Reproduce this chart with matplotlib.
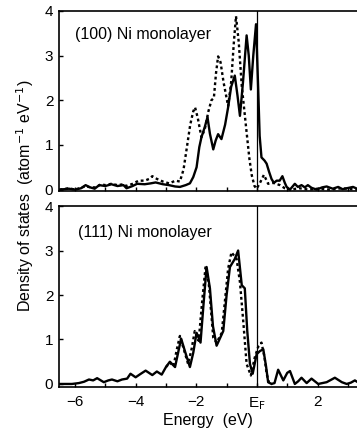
import matplotlib
matplotlib.use('Agg')
import matplotlib.pyplot as plt

plt.rcParams['font.family'] = ['Liberation Sans', 'DejaVu Sans']

# (100) monolayer, solid curve
top_solid_x = [-6.5, -6.2, -6.0, -5.8, -5.65, -5.5, -5.35, -5.2, -5.0, -4.8, -4.6, -4.4, -4.3,
               -4.1, -3.95, -3.7, -3.5, -3.34, -3.1, -2.9, -2.7, -2.54, -2.35, -2.21, -2.1,
               -1.99, -1.9, -1.83, -1.72, -1.63, -1.55, -1.44, -1.36, -1.28, -1.17, -1.05,
               -0.95, -0.85, -0.73, -0.64, -0.56, -0.46, -0.34, -0.27, -0.2, -0.12, -0.03,
               0.04, 0.09, 0.15, 0.25, 0.32, 0.4, 0.48, 0.56, 0.65, 0.75, 0.84, 0.92, 0.98,
               1.09, 1.25, 1.35, 1.47, 1.58, 1.68, 1.8, 1.97, 2.15, 2.3, 2.5, 2.68, 2.82,
               2.96, 3.17, 3.3]
top_solid_y = [0.0, 0.02, 0.0, 0.03, 0.1, 0.05, 0.02, 0.1, 0.08, 0.12, 0.08, 0.1, 0.03,
               0.08, 0.13, 0.12, 0.14, 0.16, 0.12, 0.1, 0.07, 0.06, 0.1, 0.14, 0.28,
               0.5, 0.95, 1.17, 1.4, 1.62, 1.25, 0.9, 1.1, 1.24, 1.13, 1.45,
               1.84, 2.3, 2.55, 2.1, 1.65, 2.4, 3.45, 3.0, 2.24, 3.0, 3.7,
               2.29, 1.2, 0.72, 0.65, 0.58, 0.4, 0.24, 0.15, 0.2, 0.2, 0.3, 0.15, 0.06,
               0.0, 0.13, 0.06, 0.1, 0.05, 0.1, 0.04, 0.0, 0.05, 0.07, 0.02, 0.06, 0.01,
               0.03, 0.06, 0.02]

# (100) monolayer, dotted curve
top_dot_x = [-6.5, -6.2, -6.0, -5.8, -5.65, -5.5, -5.3, -5.15, -5.0, -4.8, -4.6, -4.4, -4.3,
             -4.1, -3.9, -3.7, -3.55, -3.45, -3.3, -3.1, -2.9, -2.68, -2.54, -2.42, -2.32,
             -2.2, -2.1, -2.04, -1.95, -1.83, -1.72, -1.6, -1.5, -1.42, -1.35, -1.28,
             -1.2, -1.1, -0.95, -0.85, -0.76, -0.69, -0.6, -0.5, -0.34, -0.25, -0.17,
             -0.08, -0.01, 0.1, 0.23, 0.37, 0.54, 0.76, 0.92, 1.1, 1.4, 1.7, 2.0, 2.4,
             2.8, 3.3]
top_dot_y = [0.0, 0.03, 0.0, 0.04, 0.08, 0.05, 0.05, 0.12, 0.1, 0.13, 0.1, 0.12, 0.08,
             0.13, 0.2, 0.2, 0.24, 0.3, 0.24, 0.18, 0.14, 0.2, 0.18, 0.45, 0.9,
             1.45, 1.75, 1.84, 1.6, 1.17, 1.35, 1.75, 2.0, 2.05, 2.6, 2.98,
             2.85, 2.4, 1.87, 2.4, 3.3, 3.88, 3.3, 2.32, 1.28, 0.7, 0.32,
             0.08, 0.02, 0.15, 0.33, 0.13, 0.15, 0.1, 0.03, 0.0, 0.03, 0.0, 0.02, 0.0,
             0.03, 0.0]

# (111) monolayer, solid curve
bot_solid_x = [-6.5, -6.1, -5.87, -5.7, -5.54, -5.4, -5.27, -5.05, -4.9, -4.78, -4.6, -4.45,
               -4.28, -4.17, -4.0, -3.85, -3.67, -3.45, -3.3, -3.14, -3.0, -2.87, -2.8,
               -2.7, -2.6, -2.5, -2.38, -2.21, -2.1, -1.99, -1.86, -1.76, -1.66, -1.55,
               -1.45, -1.33, -1.11, -1.0, -0.89, -0.73, -0.62, -0.5, -0.4, -0.32, -0.23,
               -0.14, -0.01, 0.1, 0.21, 0.3, 0.37, 0.48, 0.58, 0.7, 0.87, 1.0, 1.09, 1.25,
               1.36, 1.47, 1.64, 1.8, 2.02, 2.3, 2.57, 2.8, 2.96, 3.1, 3.23, 3.3]
bot_solid_y = [0.0, 0.0, 0.02, 0.05, 0.1, 0.08, 0.13, 0.04, 0.08, 0.1, 0.06, 0.1,
               0.12, 0.23, 0.15, 0.22, 0.3, 0.2, 0.28, 0.21, 0.38, 0.5, 0.45,
               0.38, 0.7, 1.02, 0.75, 0.38, 0.7, 1.15, 0.93, 1.8, 2.63, 2.15,
               1.3, 0.86, 1.19, 2.0, 2.63, 2.81, 3.0, 2.22, 2.15, 1.2, 0.45,
               0.23, 0.67, 0.74, 0.78, 0.4, 0.04, 0.0, 0.02, 0.32, 0.08, 0.25, 0.29, 0.0,
               0.06, 0.14, 0.02, 0.12, 0.0, 0.04, 0.14, 0.04, 0.0, 0.03, 0.08, 0.05]

# (111) monolayer, dotted curve
bot_dot_x = [-3.0, -2.87, -2.75, -2.65, -2.54, -2.42, -2.27, -2.15, -2.05, -1.92, -1.8,
             -1.69, -1.58, -1.44, -1.33, -1.16, -1.05, -0.95, -0.84, -0.67, -0.56, -0.45,
             -0.34, -0.2, -0.07, 0.05, 0.15, 0.25, 0.32, 0.41, 0.5]
bot_dot_y = [0.38, 0.48, 0.4, 0.75, 1.08, 0.8, 0.45, 0.8, 1.19, 0.97, 1.9,
             2.66, 2.2, 1.04, 0.93, 1.15, 1.9, 2.59, 2.96, 2.81, 2.29, 1.4,
             0.45, 0.19, 0.6, 0.85, 0.93, 0.6, 0.23, 0.0, 0.0]

x_ticks = [-6, -4, -2, 0, 2]
x_ticklabels = ['\u22126', '\u22124', '\u22122', 'E$_\\mathrm{F}$', '2']
y_ticks = [0, 1, 2, 3, 4]

fig = plt.figure(figsize=(3.57, 4.32), dpi=100)
ax1 = fig.add_axes([0.165, 0.558, 0.835, 0.417])
ax2 = fig.add_axes([0.165, 0.104, 0.835, 0.419])

panels = [
    (ax1, top_solid_x, top_solid_y, top_dot_x, top_dot_y, '(100) Ni monolayer', -6.0, 3.47, -0.03),
    (ax2, bot_solid_x, bot_solid_y, bot_dot_x, bot_dot_y, '(111) Ni monolayer', -5.9, 3.4, -0.07),
]

for ax, sx, sy, dx, dy, label, tx, ty, ymin in panels:
    ax.plot(dx, dy, color='black', linestyle=(0, (1.2, 1.2)), linewidth=1.7)
    ax.plot(sx, sy, color='black', linewidth=1.7)
    ax.axvline(0, color='black', linewidth=0.9)
    ax.set_xlim(-6.53, 3.3)
    ax.set_ylim(ymin, 4.0)
    ax.set_xticks(range(-6, 4))
    ax.set_xticklabels([])
    ax.set_yticks(y_ticks)
    ax.tick_params(direction='in', length=3, width=1, labelsize=11, pad=4)
    ax.spines['right'].set_visible(False)
    for side in ['left', 'top', 'bottom']:
        ax.spines[side].set_linewidth(1.2)
    ax.text(tx, ty, label, fontsize=11.5, va='center', ha='left')

ax2.set_xticks(x_ticks)
ax2.set_xticklabels(x_ticklabels)
ax2.set_xticks(range(-6, 4), minor=True)
ax2.tick_params(axis='x', which='minor', direction='in', length=3, width=1)
ax2.tick_params(axis='x', which='major', pad=6)
ax2.set_xlabel('Energy  (eV)', fontsize=11.5, labelpad=1)

fig.text(0.07, 0.546, 'Density of states  (atom$^{-1}$ eV$^{-1}$)', rotation=90,
         fontsize=11.5, ha='center', va='center')

fig.savefig('out.png', dpi=100)
